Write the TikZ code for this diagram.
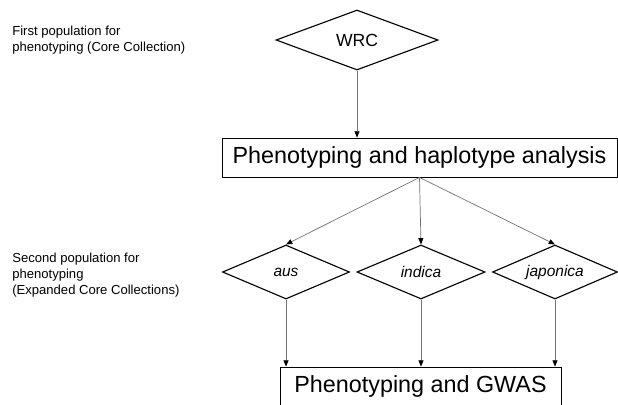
\documentclass[tikz,border=0pt]{standalone}
\usepackage{fontspec}
\setmainfont{Liberation Sans}
\usetikzlibrary{positioning,arrows.meta,shapes.geometric}

\begin{document}
\begin{tikzpicture}[x=0.025cm, y=-0.025cm,
    popnode/.style={diamond, draw=black, line width=0.8pt, inner sep=0pt,
      shape aspect=2.35, minimum height=1.35cm,
      font=\fontsize{11}{13}\selectfont\itshape},
    stagebox/.style={rectangle, draw=black, line width=0.6pt, inner sep=0pt,
      minimum height=0.975cm, font=\fontsize{16.6}{20}\selectfont},
    note/.style={anchor=west, align=left, inner sep=0pt,
      font=\fontsize{9.3}{11.3}\selectfont},
    link/.style={draw=black!55, line width=0.5pt,
      -{Triangle[length=4.5pt, width=3.6pt, color=black]}}]
  \useasboundingbox (0,0) rectangle (618,404);
  \clip (0,0) rectangle (618,404);
  % side notes
  \node[note] (first) at (12,40) {First population for\\phenotyping (Core Collection)};
  \node[note] (second) at (12,275) {Second population for\\phenotyping\\(Expanded Core Collections)};
  % first population
  \node[popnode, shape aspect=2.7, minimum width=4.05cm, minimum height=1.5cm,
    font=\fontsize{12.5}{15}\selectfont] (wrc) at (357,40) {WRC};
  \node[stagebox, minimum width=9.875cm] (hap) at (419.5,157.5)
    {Phenotyping and haplotype analysis};
  % second population
  \node[popnode, minimum width=3.175cm] (aus) at (286,272) {aus};
  \node[popnode, minimum width=3.2cm] (indica) at (421,272) {indica};
  \node[popnode, minimum width=3.125cm] (japonica) at (555,272) {japonica};
  \node[stagebox, minimum width=7.025cm] (gwas) at (420.5,386.5)
    {Phenotyping and GWAS};
  % arrows
  \draw[link] (wrc.south) -- (wrc.south |- hap.north);
  \draw[link] (hap.south) -- (aus.north);
  \draw[link] (hap.south) -- (indica.north);
  \draw[link] (hap.south) -- (japonica.north);
  \draw[link] (aus.south) -- (aus.south |- gwas.north);
  \draw[link] (indica.south) -- (indica.south |- gwas.north);
  \draw[link] (japonica.south) -- (japonica.south |- gwas.north);
\end{tikzpicture}
\end{document}
